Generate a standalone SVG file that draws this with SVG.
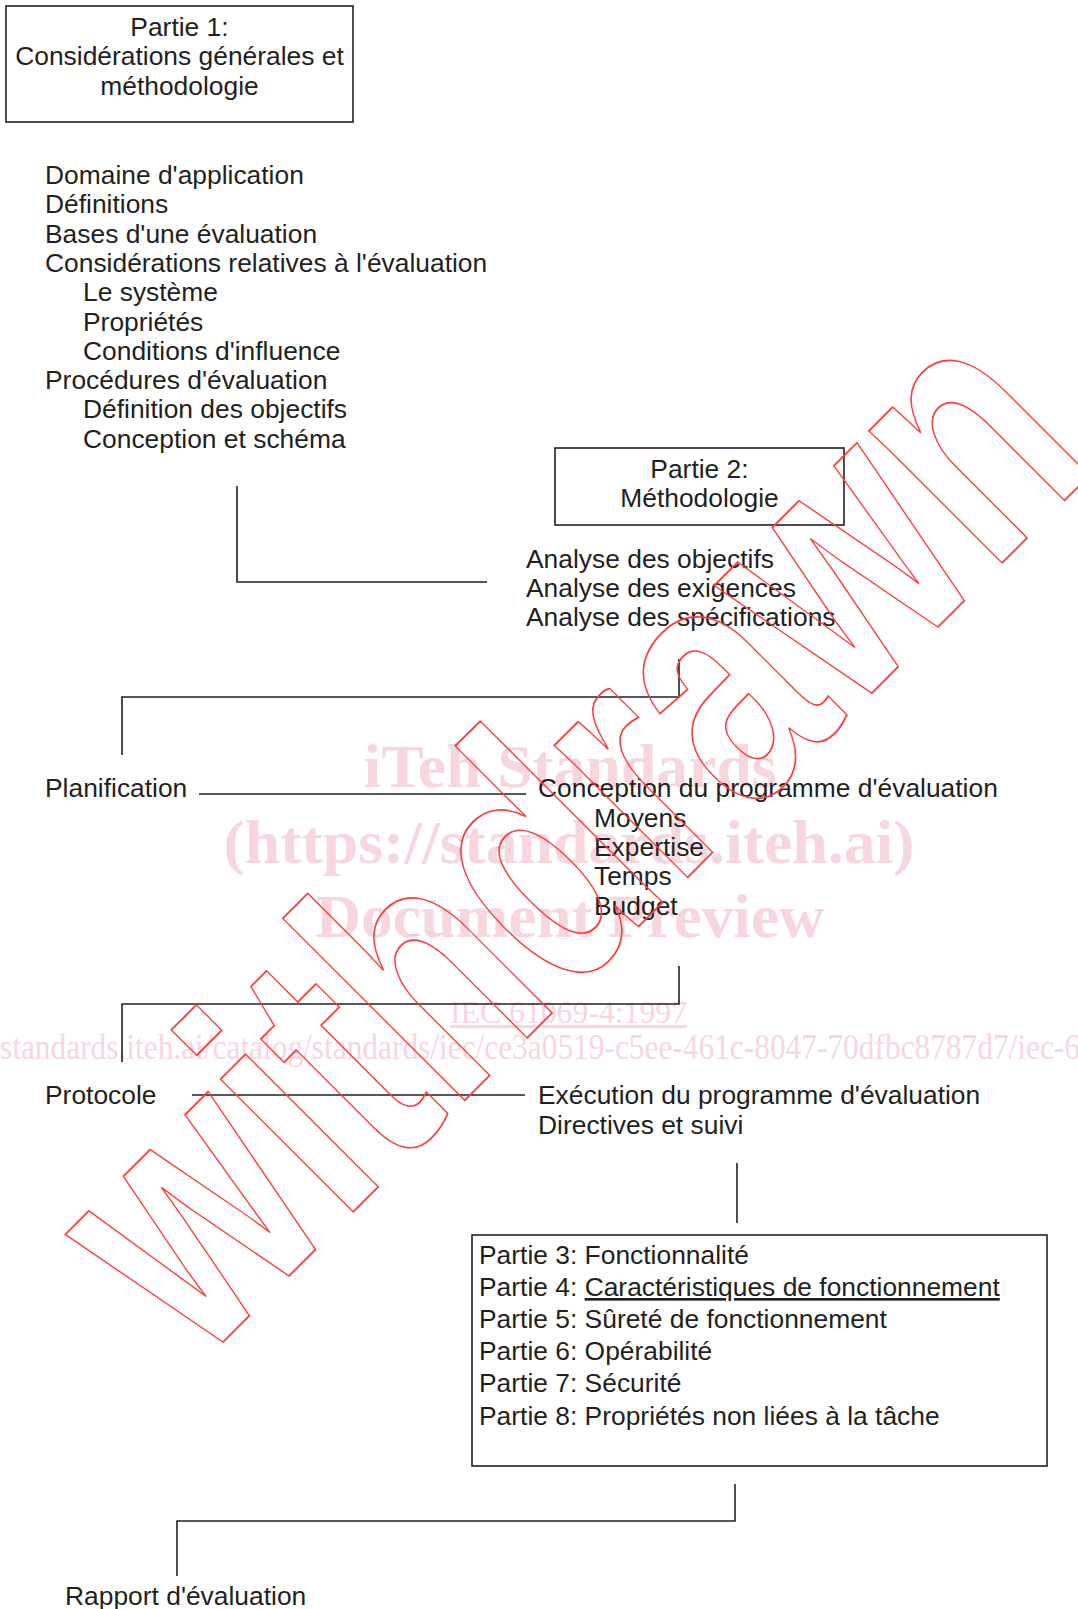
<svg xmlns="http://www.w3.org/2000/svg" width="1078" height="1609" viewBox="0 0 1078 1609">
<style>
.t{font-family:"Liberation Sans",Arial,sans-serif;font-size:26.4px;fill:#231f20}
.c{text-anchor:middle}
.box{fill:none;stroke:#231f20;stroke-width:1.6}
.ln{fill:none;stroke:#231f20;stroke-width:1.6}
.wm{font-family:"Liberation Serif","Times New Roman",serif;fill:#f8d6de}
.wb{font-weight:bold;font-size:62px;text-anchor:middle}
.wd{font-family:"Liberation Sans",Arial,sans-serif;font-weight:bold;font-size:355px;fill:none;stroke:#ff3b3b;stroke-width:1.6}
</style>
<rect width="1078" height="1609" fill="#ffffff"/>
<g id="watermark-bg">
<text class="wm wb" x="570" y="787" textLength="413" lengthAdjust="spacingAndGlyphs">iTeh Standards</text>
<text class="wm wb" x="569" y="863" textLength="691" lengthAdjust="spacingAndGlyphs">(https://standards.iteh.ai)</text>
<text class="wm wb" x="570" y="937" textLength="509" lengthAdjust="spacingAndGlyphs">Document Preview</text>
<text class="wm" x="450" y="1023" font-size="31" textLength="237" lengthAdjust="spacingAndGlyphs" text-decoration="underline">IEC 61069-4:1997</text>
<text class="wm" x="0" y="1059" font-size="36" textLength="1080" lengthAdjust="spacingAndGlyphs">standards.iteh.ai/catalog/standards/iec/ce3a0519-c5ee-461c-8047-70dfbc8787d7/iec-6</text>
</g>
<g id="connectors">
<path class="ln" d="M237,486 V582 H487"/>
<path class="ln" d="M679,659 V697 H122 V755"/>
<path class="ln" d="M199,794 H526"/>
<path class="ln" d="M679,966 V1004 H122 V1062"/>
<path class="ln" d="M192,1095 H525"/>
<path class="ln" d="M737,1163 V1223"/>
<path class="ln" d="M735,1484 V1521 H177 V1576"/>
</g>
<g id="partie1">
<rect class="box" x="6" y="6" width="347" height="116"/>
<text class="t c" x="179.5" y="36">Partie 1:</text>
<text class="t c" x="179.5" y="65.3">Considérations générales et</text>
<text class="t c" x="179.5" y="94.6">méthodologie</text>
</g>
<g id="liste1">
<text class="t" x="45" y="184">Domaine d'application</text>
<text class="t" x="45" y="213.3">Définitions</text>
<text class="t" x="45" y="242.6">Bases d'une évaluation</text>
<text class="t" x="45" y="271.9">Considérations relatives à l'évaluation</text>
<text class="t" x="83" y="301.2">Le système</text>
<text class="t" x="83" y="330.5">Propriétés</text>
<text class="t" x="83" y="359.8">Conditions d'influence</text>
<text class="t" x="45" y="389.1">Procédures d'évaluation</text>
<text class="t" x="83" y="418.4">Définition des objectifs</text>
<text class="t" x="83" y="447.7">Conception et schéma</text>
</g>
<g id="partie2">
<rect class="box" x="555" y="448" width="289" height="77"/>
<text class="t c" x="699.5" y="478">Partie 2:</text>
<text class="t c" x="699.5" y="507">Méthodologie</text>
</g>
<g id="analyse">
<text class="t" x="526" y="567.5">Analyse des objectifs</text>
<text class="t" x="526" y="597">Analyse des exigences</text>
<text class="t" x="526" y="626.3">Analyse des spécifications</text>
</g>
<g id="planification">
<text class="t" x="45" y="797">Planification</text>
</g>
<g id="conception">
<text class="t" x="538" y="797">Conception du programme d'évaluation</text>
<text class="t" x="594" y="827">Moyens</text>
<text class="t" x="594" y="856">Expertise</text>
<text class="t" x="594" y="885">Temps</text>
<text class="t" x="594" y="914.5">Budget</text>
</g>
<g id="protocole">
<text class="t" x="45" y="1104">Protocole</text>
</g>
<g id="execution">
<text class="t" x="538" y="1104">Exécution du programme d'évaluation</text>
<text class="t" x="538" y="1133.5">Directives et suivi</text>
</g>
<g id="parties3-8">
<rect class="box" x="472" y="1235" width="575" height="231"/>
<text class="t" x="479" y="1264">Partie 3: Fonctionnalité</text>
<text class="t" x="479" y="1296">Partie 4: <tspan text-decoration="underline">Caractéristiques de fonctionnement</tspan></text>
<text class="t" x="479" y="1328">Partie 5: Sûreté de fonctionnement</text>
<text class="t" x="479" y="1360">Partie 6: Opérabilité</text>
<text class="t" x="479" y="1392">Partie 7: Sécurité</text>
<text class="t" x="479" y="1424.5">Partie 8: Propriétés non liées à la tâche</text>
</g>
<g id="rapport">
<text class="t" x="65" y="1605">Rapport d'évaluation</text>
</g>
<g id="watermark-fg">
<text class="wd" transform="translate(198.5,1366.5) rotate(-45) scale(0.727,1)" vector-effect="non-scaling-stroke">withdrawn</text>
</g>
</svg>
